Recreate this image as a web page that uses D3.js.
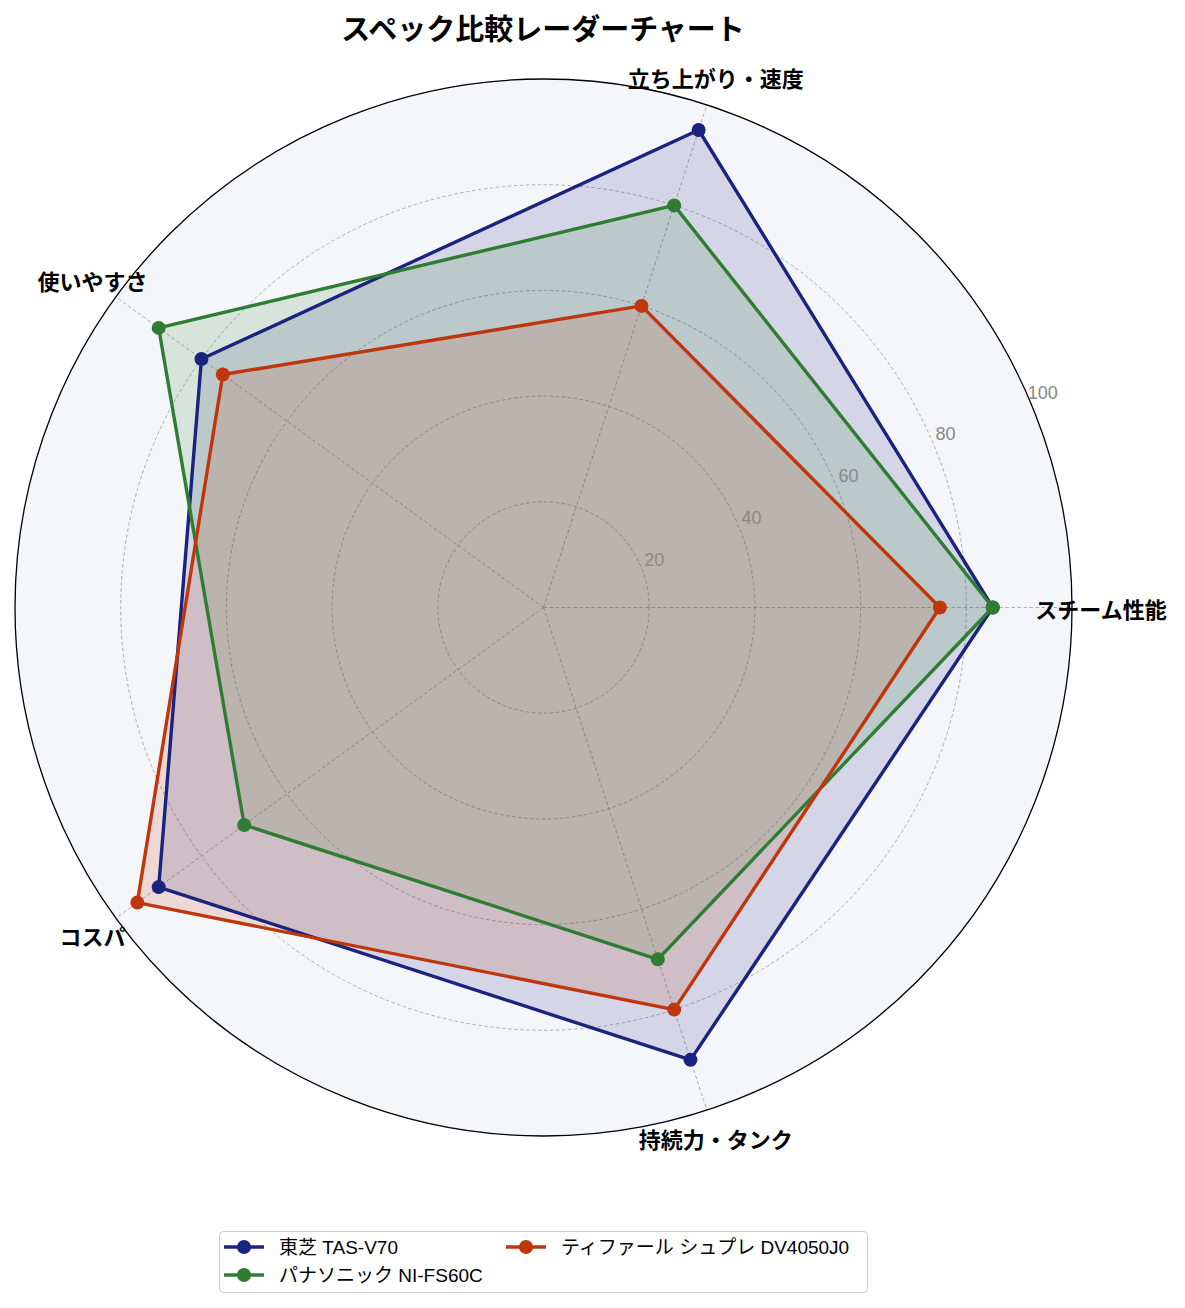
<!DOCTYPE html>
<html><head><meta charset="utf-8">
<script src="https://cdn.jsdelivr.net/npm/d3@7"></script>
<style>
html,body{margin:0;padding:0;background:#fff;}
svg{display:block;font-family:"Liberation Sans","Noto Sans CJK JP",sans-serif;}
</style></head>
<body><svg id="chart" width="1185" height="1308"></svg>
<script>
const categories = ["スチーム性能", "立ち上がり・速度", "使いやすさ", "コスパ", "持続力・タンク"];
const seriesNames = ["東芝 TAS-V70", "パナソニック NI-FS60C", "ティファール シュプレ DV4050J0"];
const toshiba = [85, 95, 80, 90, 90];
const panasonic = [85, 80, 90, 70, 70];
const tfal = [75, 60, 75, 95, 80];
const seriesColors = ["#1a237e", "#2e7d32", "#bf360c"];
const radialTicks = [20, 40, 60, 80, 100];
const titleText = "スペック比較レーダーチャート";

const series = [toshiba, panasonic, tfal];
const svg = d3.select("#chart");
const cx = 543.5, cy = 607.5, R = 528.5;
const r = d3.scaleLinear().domain([0, 100]).range([0, R]);
const n = categories.length;
const theta = i => i * 2 * Math.PI / n; // counterclockwise from east
const d3angle = i => Math.PI / 2 - theta(i); // clockwise from north
const px = (i, v) => cx + r(v) * Math.cos(theta(i));
const py = (i, v) => cy - r(v) * Math.sin(theta(i));

const g = svg.append("g");
g.append("circle").attr("cx", cx).attr("cy", cy).attr("r", R).attr("fill", "#f5f6fa");
g.selectAll("circle.grid").data(radialTicks.filter(t => t < 100)).join("circle")
  .attr("class", "grid").attr("cx", cx).attr("cy", cy).attr("r", d => r(d))
  .attr("fill", "none").attr("stroke", "#9a9a9a").attr("stroke-width", 0.8)
  .attr("stroke-dasharray", "3.5,2.5");
g.selectAll("line.spoke").data(categories).join("line")
  .attr("class", "spoke").attr("x1", cx).attr("y1", cy)
  .attr("x2", (d, i) => px(i, 100)).attr("y2", (d, i) => py(i, 100))
  .attr("stroke", "#9a9a9a").attr("stroke-width", 0.8).attr("stroke-dasharray", "3.5,2.5");

const line = d3.lineRadial()
  .angle((d, i) => d3angle(i))
  .radius(d => r(d))
  .curve(d3.curveLinearClosed);

const pg = svg.append("g").attr("transform", `translate(${cx},${cy})`);
series.forEach((s, k) => {
  pg.append("path").attr("d", line(s)).attr("fill", seriesColors[k]).attr("fill-opacity", 0.15).attr("stroke", "none");
});
series.forEach((s, k) => {
  pg.append("path").attr("d", line(s)).attr("fill", "none").attr("stroke", seriesColors[k])
    .attr("stroke-width", 3.4).attr("stroke-linejoin", "round");
  pg.selectAll(null).data(s).join("circle")
    .attr("cx", (d, i) => px(i, d) - cx).attr("cy", (d, i) => py(i, d) - cy)
    .attr("r", 7).attr("fill", seriesColors[k]);
});

svg.append("circle").attr("cx", cx).attr("cy", cy).attr("r", R).attr("fill", "none").attr("stroke", "#000").attr("stroke-width", 1.3);

const la = 23.3 * Math.PI / 180;
svg.selectAll("text.rtick").data(radialTicks).join("text")
  .attr("class", "rtick")
  .attr("x", d => cx + (r(d) + 15) * Math.cos(la))
  .attr("y", d => cy - (r(d) + 15) * Math.sin(la))
  .attr("text-anchor", "middle").attr("dominant-baseline", "central")
  .attr("font-size", 18).attr("fill", "#888").text(d => d);

svg.selectAll("text.cat").data(categories).join("text")
  .attr("class", "cat")
  .attr("x", (d, i) => cx + (R + 29) * Math.cos(theta(i)))
  .attr("y", (d, i) => cy - (R + 29) * Math.sin(theta(i)))
  .attr("text-anchor", "middle").attr("dominant-baseline", "central")
  .attr("font-family", "Noto Sans CJK JP")
  .attr("font-size", 22).attr("font-weight", "bold").attr("fill", "#000").text(d => d);

svg.append("text").attr("x", 543).attr("y", 27).attr("text-anchor", "middle").attr("dominant-baseline", "central")
  .attr("font-family", "Noto Sans CJK JP")
  .attr("font-size", 29).attr("font-weight", "bold").text(titleText);

const lg = svg.append("g");
lg.append("rect").attr("x", 219.5).attr("y", 1231.5).attr("width", 648).attr("height", 61).attr("rx", 4)
  .attr("fill", "#fff").attr("stroke", "#ccc").attr("stroke-width", 1);
const legPos = [[224, 1247], [224, 1275], [506, 1247]];
seriesNames.forEach((name, k) => {
  const [x, y] = legPos[k];
  lg.append("line").attr("x1", x).attr("x2", x + 40).attr("y1", y).attr("y2", y)
    .attr("stroke", seriesColors[k]).attr("stroke-width", 3.4);
  lg.append("circle").attr("cx", x + 20).attr("cy", y).attr("r", 7).attr("fill", seriesColors[k]);
  lg.append("text").attr("x", x + 55).attr("y", y).attr("dominant-baseline", "central")
    .attr("font-size", 19).attr("fill", "#000").text(name);
});
</script></body></html>
